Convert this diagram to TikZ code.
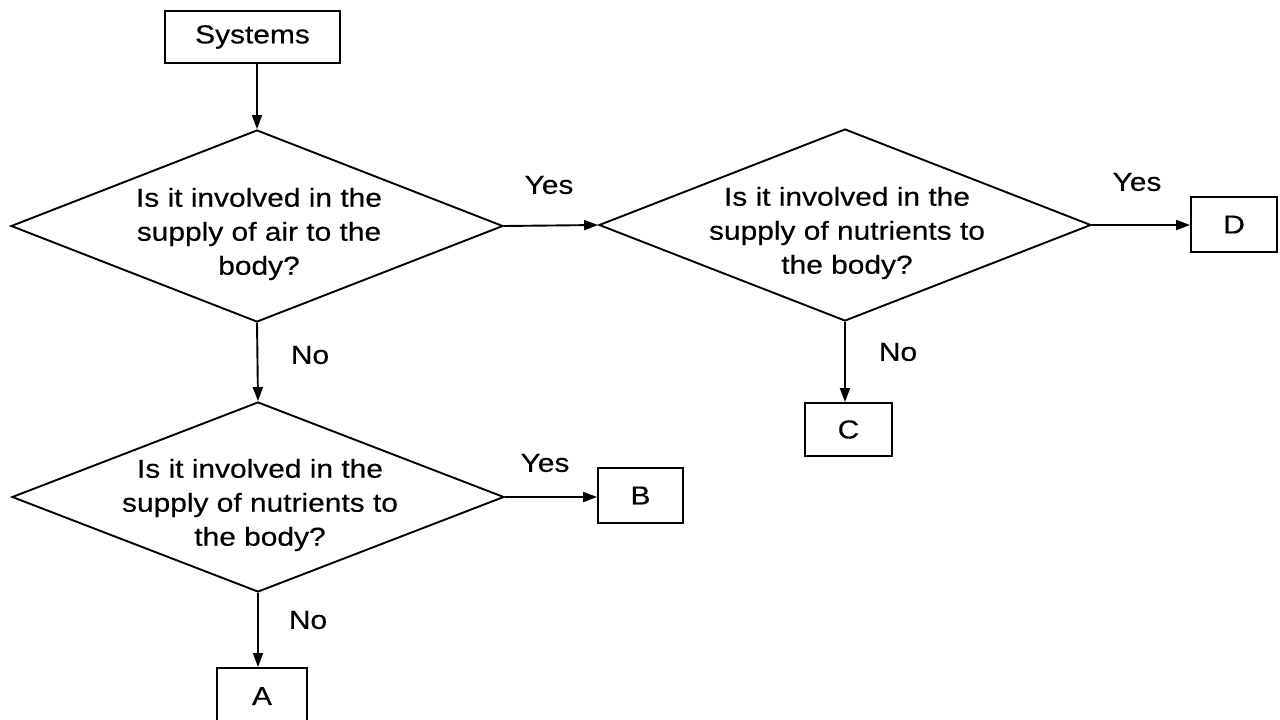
\documentclass[tikz,border=0pt]{standalone}
\usepackage{fontspec}
\newfontfamily\lsf[FakeStretch=1.15,FakeBold=0.4]{Liberation Sans}
\usetikzlibrary{shapes.geometric,arrows.meta}
\begin{document}
\begin{tikzpicture}[x=1pt,y=-1pt,
  every node/.style={font=\lsf\fontsize{26}{34}\selectfont},
  box/.style={draw,line width=1.9pt,inner sep=0pt},
  dec/.style={draw,shape=diamond,line width=1.9pt,inner sep=0pt},
  qtext/.style={align=center,inner sep=0pt},
  lbl/.style={inner sep=0pt},
  arr/.style={line width=1.9pt,-{Triangle[length=14pt,width=10pt]}}]
\useasboundingbox (0,0) rectangle (1280,720);
% boxes
\node[box,minimum width=175pt,minimum height=52pt] (sys) at (252.5,37) {Systems};
\node[box,minimum width=86pt,minimum height=55pt] (dbox) at (1234,224.5) {D};
\node[box,minimum width=87pt,minimum height=53pt] (cbox) at (848.5,429.5) {C};
\node[box,minimum width=85pt,minimum height=55pt] (bbox) at (640.5,495.5) {B};
\node[box,minimum width=90pt,minimum height=56pt] (abox) at (262,696) {A};
% decisions
\node[dec,minimum width=492pt,minimum height=192pt] (d1) at (257,226) {};
\node[dec,minimum width=492pt,minimum height=192pt] (d2) at (845,225) {};
\node[dec,minimum width=492pt,minimum height=190pt] (d3) at (258,497) {};
\node[qtext] (t1) at (259,234) {Is it involved in the\\supply of air to the\\body?};
\node[qtext] (t2) at (847,233) {Is it involved in the\\supply of nutrients to\\the body?};
\node[qtext] (t3) at (260,505) {Is it involved in the\\supply of nutrients to\\the body?};
% labels
\node[lbl] (y1) at (549,185) {Yes};
\node[lbl] (y2) at (1137,182) {Yes};
\node[lbl] (y3) at (545,463) {Yes};
\node[lbl] (n1) at (310,355) {No};
\node[lbl] (n2) at (898,352) {No};
\node[lbl] (n3) at (308,620) {No};
% connectors
\draw[arr] (sys.south -| d1.north) -- (d1.north);
\draw[arr] (d1.east) -- (d2.west);
\draw[arr] (d2.east) -- (d2.east -| dbox.west);
\draw[arr] (d2.south) -- (d2.south |- cbox.north);
\draw[arr] (d1.south) -- (d3.north);
\draw[arr] (d3.east) -- (d3.east -| bbox.west);
\draw[arr] (d3.south) -- (d3.south |- abox.north);
\end{tikzpicture}
\end{document}
